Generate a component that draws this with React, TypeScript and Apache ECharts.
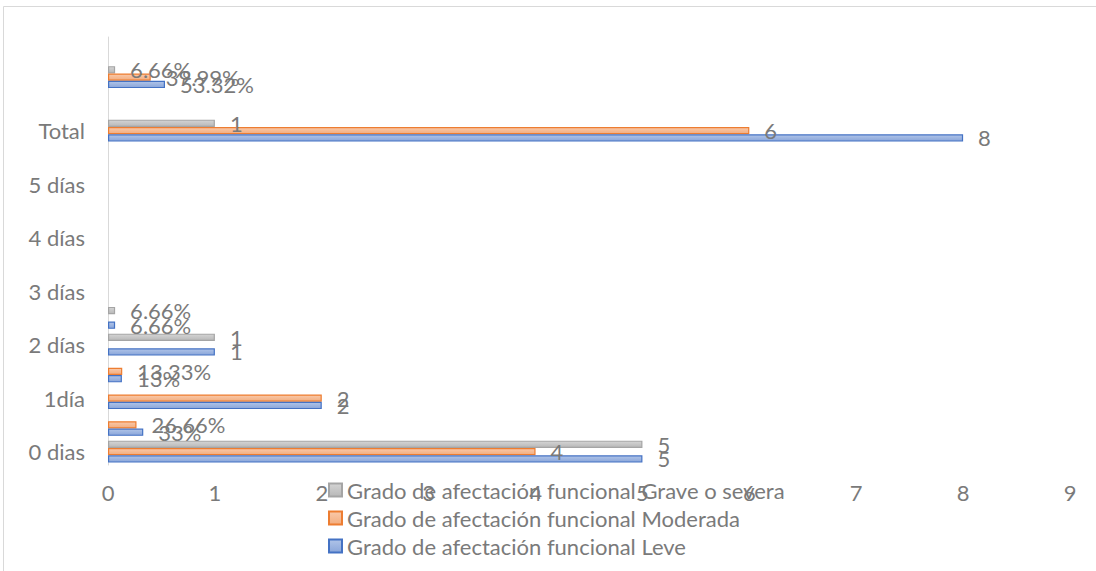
import React, { useEffect, useRef } from "react";
import * as echarts from "echarts";

const categories = ["0 dias", "", "1día", "", "2 días", "", "3 días", "", "4 días", "", "5 días", "", "Total", "", "", ""];

const leveValues = [5, 0.33, 2, 0.13, 1, 0.0666, null, null, null, null, null, null, 8, null, 0.5332, null];
const moderadaValues = [4, 0.2666, 2, 0.1333, null, null, null, null, null, null, null, null, 6, null, 0.3999, null];
const graveValues = [5, null, null, null, 1, 0.0666, null, null, null, null, null, null, 1, null, 0.0666, null];

const leveLabels = ["5", "33%", "2", "13%", "1", "6.66%", "", "", "", "", "", "", "8", "", "53.32%", ""];
const moderadaLabels = ["4", "26.66%", "2", "13.33%", "", "", "", "", "", "", "", "", "6", "", "39.99%", ""];
const graveLabels = ["5", "", "", "", "1", "6.66%", "", "", "", "", "", "", "1", "", "6.66%", ""];

const seriesNames = [
  "Grado de afectación funcional Grave o severa",
  "Grado de afectación funcional Moderada",
  "Grado de afectación funcional Leve",
];

const FONT = "Lato";
const FS = 22;
const TXT = "#7a7a7a";

function grad(a: string, b: string) {
  return new echarts.graphic.LinearGradient(0, 0, 0, 1, [
    { offset: 0, color: a },
    { offset: 1, color: b },
  ]);
}

export default function App() {
  const ref = useRef<HTMLDivElement>(null);
  useEffect(() => {
    const chart = echarts.init(ref.current!, null, { renderer: "svg" });
    const mk = (name: string, data: (number | null)[], labels: string[], c1: string, c2: string, border: string) => ({
      name,
      type: "bar",
      data,
      barGap: "0%",
      barCategoryGap: "18%",
      itemStyle: { color: grad(c1, c2), borderColor: border, borderWidth: 1.2 },
      label: {
        show: true,
        position: "right",
        distance: 15,
        color: TXT,
        fontFamily: FONT,
        fontSize: FS,
        formatter: (p: any) => labels[p.dataIndex] || "",
      },
    });
    chart.setOption({
      animation: false,
      backgroundColor: "#ffffff",
      graphic: [
        {
          type: "rect",
          silent: true,
          z: -10,
          shape: { x: 3.5, y: 6.5, width: 1300, height: 800 },
          style: { fill: "none", stroke: "#d9d9d9", lineWidth: 1 },
        },
      ],
      grid: { left: 108, right: 26, top: 37, bottom: 106, containLabel: false },
      xAxis: {
        type: "value",
        min: 0,
        max: 9,
        interval: 1,
        axisLine: { show: false },
        axisTick: { show: false },
        splitLine: { show: false },
        axisLabel: { color: TXT, fontFamily: FONT, fontSize: FS, margin: 16 },
      },
      yAxis: {
        type: "category",
        data: categories,
        axisLine: { show: true, lineStyle: { color: "#d9d9d9", width: 1 } },
        axisTick: { show: false },
        axisLabel: { color: TXT, fontFamily: FONT, fontSize: FS, margin: 23, interval: 0, padding: [0, 0, 4, 0] },
      },
      legend: {
        orient: "vertical",
        left: 323,
        top: 474,
        itemWidth: 13,
        itemHeight: 13,
        itemGap: 6,
        icon: "rect",
        textStyle: { color: TXT, fontFamily: FONT, fontSize: FS, lineHeight: 22 },
        data: seriesNames,
      },
      series: [
        mk(seriesNames[0], graveValues, graveLabels, "#d4d4d4", "#b8b8b8", "#a5a5a5"),
        mk(seriesNames[1], moderadaValues, moderadaLabels, "#f9c9aa", "#f3ad7e", "#ed7d31"),
        mk(seriesNames[2], leveValues, leveLabels, "#b0c4e8", "#8aa6da", "#4472c4"),
      ],
    });
    return () => chart.dispose();
  }, []);
  return (
    <div
      ref={ref}
      style={{ position: "fixed", left: 0, top: 0, width: 1096, height: 571 }}
    />
  );
}
